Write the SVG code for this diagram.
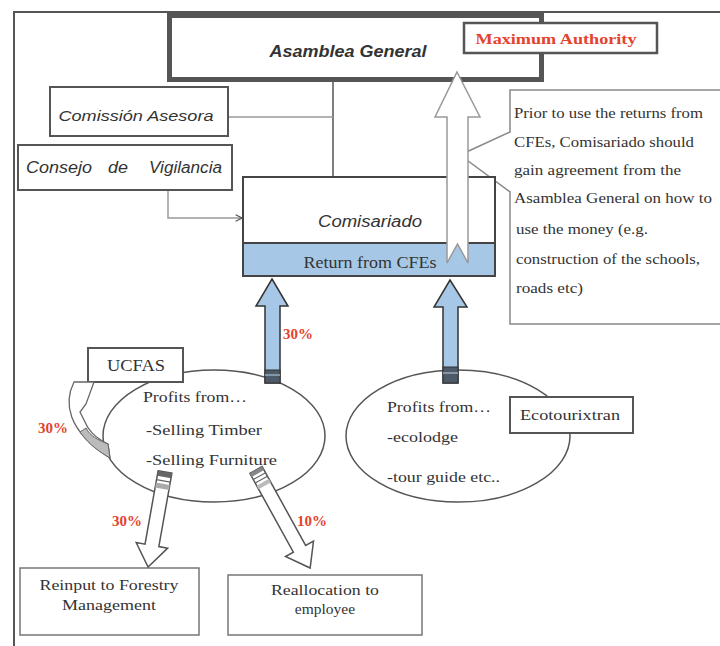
<svg xmlns="http://www.w3.org/2000/svg" width="720" height="646" viewBox="0 0 720 646">
<defs>
<style>
.box{fill:#fff;stroke:#555;stroke-width:2}
.thin{fill:#fff;stroke:#777;stroke-width:1.5}
.sans{font-family:"Liberation Sans",Arial,sans-serif;font-style:italic;fill:#333}
.serif{font-family:"Liberation Serif","Times New Roman",serif;fill:#333}
.red{font-family:"Liberation Serif","Times New Roman",serif;font-weight:bold;fill:#e4432d;font-size:15px}
.line{fill:none;stroke:#555;stroke-width:1.5}
.gline{fill:none;stroke:#999;stroke-width:1.5}
.blue{fill:#a6c8e6;stroke:#333;stroke-width:1.5}
.hollow{fill:#fff;stroke:#555;stroke-width:1.5}
</style>
<marker id="chev" viewBox="0 0 10 10" refX="9" refY="5" markerWidth="8" markerHeight="8" orient="auto" markerUnits="userSpaceOnUse">
<path d="M1 1 L9 5 L1 9" fill="none" stroke="#555" stroke-width="1.5"/>
</marker>
</defs>
<rect width="720" height="646" fill="#fff"/>
<path d="M14 646 V12 H720" fill="none" stroke="#555" stroke-width="2"/>

<g id="connectors">
<line class="line" x1="333" y1="80" x2="333" y2="177"/>
<line class="gline" x1="228" y1="117" x2="333" y2="117"/>
<path class="gline" d="M168 190 V218 H242" marker-end="url(#chev)"/>
</g>

<g id="asamblea">
<rect x="169.5" y="15.5" width="372" height="64" fill="#fff" stroke="#555" stroke-width="5"/>
<text class="sans" x="348" y="57" font-size="16.5" font-weight="bold" text-anchor="middle" textLength="157" lengthAdjust="spacingAndGlyphs">Asamblea General</text>
</g>
<g id="max-authority">
<rect x="464" y="23" width="193" height="30" fill="#fff" stroke="#555" stroke-width="2.5"/>
<text class="red" x="556" y="44" font-size="16" text-anchor="middle" textLength="161" lengthAdjust="spacingAndGlyphs">Maximum Authority</text>
</g>
<g id="comision">
<rect class="box" x="50" y="87" width="178" height="49"/>
<text class="sans" x="136" y="121" font-size="15" text-anchor="middle" textLength="155" lengthAdjust="spacingAndGlyphs">Comissión Asesora</text>
</g>
<g id="consejo">
<rect class="box" x="18" y="145" width="214" height="45"/>
<text class="sans" x="26" y="173" font-size="16" textLength="66" lengthAdjust="spacingAndGlyphs">Consejo</text>
<text class="sans" x="108" y="173" font-size="16" textLength="20" lengthAdjust="spacingAndGlyphs">de</text>
<text class="sans" x="149" y="173" font-size="16" textLength="73" lengthAdjust="spacingAndGlyphs">Vigilancia</text>
</g>
<g id="callout">
<path d="M510 90 H724 V324 H510 V192 L460 155 L510 132 Z" fill="#fff" stroke="#888" stroke-width="1.5"/>
<g class="serif" font-size="15">
<text x="514" y="118" textLength="189" lengthAdjust="spacingAndGlyphs">Prior to use the returns from</text>
<text x="514" y="147" textLength="180" lengthAdjust="spacingAndGlyphs">CFEs, Comisariado should</text>
<text x="514" y="175" textLength="167" lengthAdjust="spacingAndGlyphs">gain agreement from the</text>
<text x="514" y="203" textLength="198" lengthAdjust="spacingAndGlyphs">Asamblea General on how to</text>
<text x="516" y="234" textLength="132" lengthAdjust="spacingAndGlyphs">use the money (e.g.</text>
<text x="516" y="264" textLength="184" lengthAdjust="spacingAndGlyphs">construction of the schools,</text>
<text x="516" y="293" textLength="67" lengthAdjust="spacingAndGlyphs">roads etc)</text>
</g>
</g>
<g id="comisariado">
<rect x="243" y="177" width="252" height="99" fill="#fff" stroke="#444" stroke-width="2"/>
<rect x="243" y="243" width="252" height="33" fill="#a6c8e6" stroke="#444" stroke-width="2"/>
<text class="sans" x="370" y="227" font-size="16" text-anchor="middle" textLength="104" lengthAdjust="spacingAndGlyphs">Comisariado</text>
<text class="serif" x="370" y="268" font-size="16" text-anchor="middle" textLength="133" lengthAdjust="spacingAndGlyphs">Return from CFEs</text>
</g>

<g id="ucfas-profits">
<ellipse cx="214" cy="436" rx="111" ry="66" fill="#fff" stroke="#555" stroke-width="1.5"/>
<text class="serif" x="143" y="402" font-size="15" textLength="104" lengthAdjust="spacingAndGlyphs">Profits from…</text>
<text class="serif" x="146" y="435" font-size="15" textLength="116" lengthAdjust="spacingAndGlyphs">-Selling Timber</text>
<text class="serif" x="146" y="465" font-size="15" textLength="131" lengthAdjust="spacingAndGlyphs">-Selling Furniture</text>
</g>
<g id="eco-profits">
<ellipse cx="458" cy="436" rx="112" ry="66" fill="#fff" stroke="#555" stroke-width="1.5"/>
<text class="serif" x="387" y="412" font-size="15" textLength="104" lengthAdjust="spacingAndGlyphs">Profits from…</text>
<text class="serif" x="387" y="442" font-size="15" textLength="71" lengthAdjust="spacingAndGlyphs">-ecolodge</text>
<text class="serif" x="387" y="482" font-size="15" textLength="113" lengthAdjust="spacingAndGlyphs">-tour guide etc..</text>
</g>
<g id="ucfas">
<rect class="box" x="88" y="348" width="95" height="34"/>
<text class="serif" x="136" y="371" font-size="16" text-anchor="middle" textLength="58" lengthAdjust="spacingAndGlyphs">UCFAS</text>
</g>
<g id="ecotourixtran">
<rect class="box" x="510" y="397" width="123" height="36"/>
<text class="serif" x="520" y="420" font-size="15" textLength="100" lengthAdjust="spacingAndGlyphs">Ecotourixtran</text>
</g>
<g id="reinput">
<rect class="thin" x="20" y="568" width="179" height="67"/>
<text class="serif" x="109" y="590" font-size="15.5" text-anchor="middle" textLength="139" lengthAdjust="spacingAndGlyphs">Reinput to Forestry</text>
<text class="serif" x="109" y="610" font-size="15.5" text-anchor="middle" textLength="94" lengthAdjust="spacingAndGlyphs">Management</text>
</g>
<g id="reallocation">
<rect class="thin" x="228" y="575" width="194" height="60"/>
<text class="serif" x="325" y="595" font-size="15.5" text-anchor="middle" textLength="108" lengthAdjust="spacingAndGlyphs">Reallocation to</text>
<text class="serif" x="325" y="614" font-size="15.5" text-anchor="middle">employee</text>
</g>

<g id="flow-arrows">
<path d="M457 72 L480 117 L468 117 L468 263 L457.5 244 L447 263 L447 117 L435 117 Z" fill="#fff" stroke="#999" stroke-width="1.5"/>
<path class="blue" d="M272 279 L288 306 L280 306 L280 383 L265 383 L265 306 L256 306 Z"/>
<rect x="265" y="370" width="15" height="13" fill="#4d5b69" stroke="#333" stroke-width="1"/>
<line x1="265" y1="375" x2="280" y2="375" stroke="#9ab" stroke-width="1.5"/>
<path class="blue" d="M450 280 L467 307 L458 307 L458 383 L443 383 L443 307 L434 307 Z"/>
<rect x="443" y="367" width="15" height="16" fill="#4d5b69" stroke="#333" stroke-width="1"/>
<line x1="443" y1="373" x2="458" y2="373" stroke="#9ab" stroke-width="1.5"/>
<path d="M74 382 C64 402 66 430 110 458 L108 444 C94 437 88 430 84 420 L80 412 L86 404 L94 382 Z" fill="#fff" stroke="#666" stroke-width="1.3"/>
<path d="M80 432 C90 446 100 452 110 458 L108 444 C98 440 90 436 86 428 Z" fill="#bbb" stroke="#666" stroke-width="1"/>
<g transform="translate(165 472) rotate(10.1)">
<path class="hollow" d="M-7 0 L7 0 L7 74.5 L16 74.5 L0 96.5 L-16 74.5 L-7 74.5 Z"/>
<rect x="-7" y="0" width="14" height="5" fill="#666"/>
<line x1="-7" y1="9" x2="7" y2="9" stroke="#666" stroke-width="1.2"/>
<rect x="-7" y="12" width="14" height="5" fill="#aaa"/>
</g>
<g transform="translate(256 470) rotate(-28.9)">
<path class="hollow" d="M-7 0 L7 0 L7 90 L16 90 L0 112 L-16 90 L-7 90 Z"/>
<rect x="-7" y="0" width="14" height="4" fill="#888"/>
<line x1="-7" y1="7" x2="7" y2="7" stroke="#666" stroke-width="1.2"/>
<line x1="-7" y1="11" x2="7" y2="11" stroke="#666" stroke-width="1.2"/>
<rect x="-7" y="14" width="14" height="4" fill="#bbb"/>
</g>
</g>

<g id="labels">
<text class="red" x="283" y="339">30%</text>
<text class="red" x="68" y="433" text-anchor="end">30%</text>
<text class="red" x="112" y="526">30%</text>
<text class="red" x="297" y="526">10%</text>
</g>
</svg>
